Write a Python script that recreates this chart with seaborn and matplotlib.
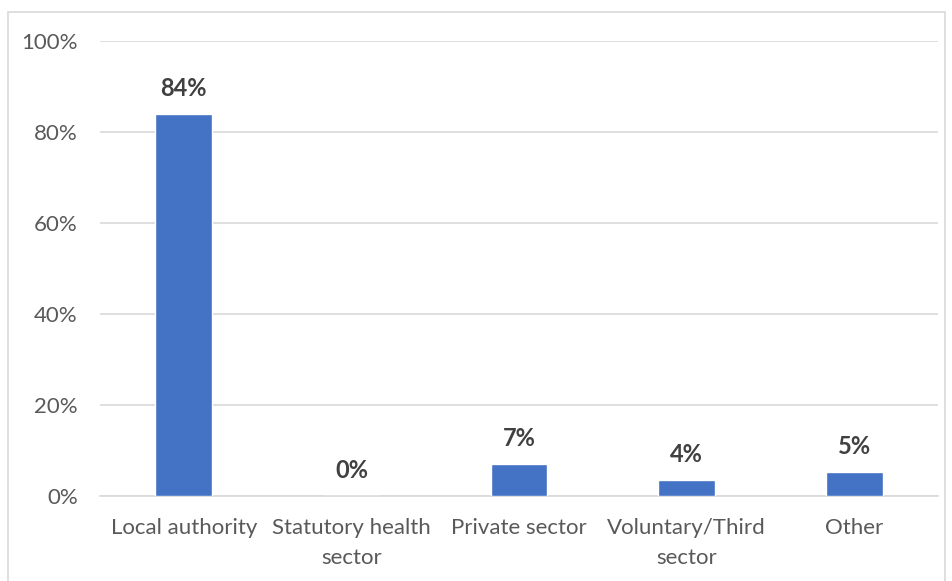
import matplotlib
matplotlib.use("Agg")
import matplotlib.pyplot as plt
import matplotlib.patches as mpatches
from matplotlib.ticker import FuncFormatter
import seaborn as sns
import pandas as pd

categories = ["Local authority", "Statutory health\nsector", "Private sector",
              "Voluntary/Third\nsector", "Other"]
values = [84.0, 0.0, 7.0, 3.5, 5.3]
labels = ["84%", "0%", "7%", "4%", "5%"]
yticks = [0, 20, 40, 60, 80, 100]

sns.set_theme(style="white")
plt.rcParams['font.family'] = ['Lato', 'DejaVu Sans']

df = pd.DataFrame({"category": categories, "value": values})

fig = plt.figure(figsize=(9.52, 5.81), dpi=100)
ax = fig.add_axes([100/952, (581-496)/581, 838/952, 455/581])

sns.barplot(data=df, x="category", y="value", color="#4472C4", width=0.34,
            saturation=1, ax=ax, zorder=3)

ax.set_ylim(0, 100)
ax.set_xlim(-0.5, 4.5)
ax.set_yticks(yticks)
ax.yaxis.set_major_formatter(FuncFormatter(lambda v, p: f"{int(v)}%"))
ax.grid(axis="y", color="#D9D9D9", linewidth=1.2, zorder=0)
ax.set_axisbelow(True)
for s in ["top", "right", "left"]:
    ax.spines[s].set_visible(False)
ax.spines["bottom"].set_color("#D9D9D9")
ax.spines["bottom"].set_linewidth(1.2)
ax.tick_params(axis="both", length=0, labelsize=16, colors="#595959")
ax.tick_params(axis="y", pad=16)
ax.tick_params(axis="x", pad=16)
for t in ax.get_xticklabels():
    t.set_linespacing(1.6)
ax.set_xlabel("")
ax.set_ylabel("")

for patch, lab in zip(ax.patches, labels):
    x = patch.get_x() + patch.get_width() / 2
    h = patch.get_height()
    ax.annotate(lab, (x, h), xytext=(0, 10), textcoords="offset points",
                ha="center", va="bottom", fontsize=17, fontweight="bold",
                color="#404040")

border = mpatches.Rectangle((7.5/952, -0.05), (945-7.5)/952, 1.05 - 11.5/581,
                            transform=fig.transFigure, fill=False,
                            edgecolor="#D9D9D9", linewidth=1.2)
fig.patches.append(border)

fig.savefig("out.png", dpi=100)
